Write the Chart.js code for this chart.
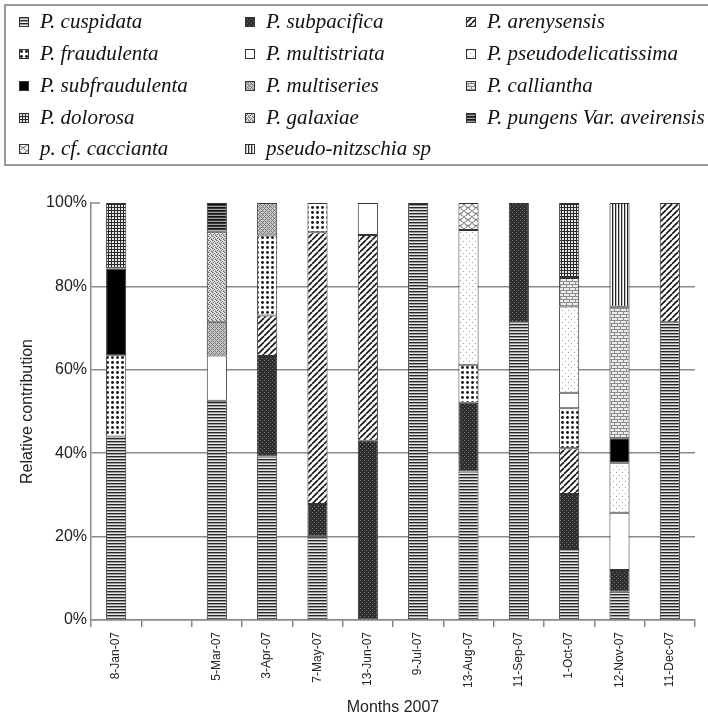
<!DOCTYPE html>
<html>
<head>
<meta charset="utf-8">
<script src="https://cdn.jsdelivr.net/npm/chart.js@4.4.1/dist/chart.umd.min.js"></script>
<style>
  html, body { margin: 0; padding: 0; background: #fff; width: 708px; height: 721px; overflow: hidden; }
  #wrap { position: relative; width: 708px; height: 721px; }
  #chart { position: absolute; left: 0; top: 0; }
  #legend { position: absolute; left: 4px; top: 4px; width: 712px; height: 162px; border: 2px solid #9a9a9a; box-sizing: border-box; }
  .item { position: absolute; font: italic 21px "Liberation Serif", "Times New Roman", serif; color: #111; white-space: nowrap; line-height: 21px; }
  .sw { position: absolute; width: 10px; height: 10px; }
</style>
</head>
<body>
<div id="wrap">
  <canvas id="chart" width="708" height="721"></canvas>
  <div id="legend"></div>
</div>
<script>
// Sampling dates (the second slot is an empty month on the axis)
const categories = ['8-Jan-07', '', '5-Mar-07', '3-Apr-07', '7-May-07', '13-Jun-07', '9-Jul-07',
                    '13-Aug-07', '11-Sep-07', '1-Oct-07', '12-Nov-07', '11-Dec-07'];

// Relative contribution (%) of each taxon per sampling date
const cuspidata           = [44.0, null, 52.6, 39.2, 20.0, null, 100, 35.6, 71.4, 17.0, 6.8, 71.4];
const subpacifica         = [null, null, null, 24.1, 7.8, 43.0, null, 16.5, 28.6, 13.2, 5.2, null];
const arenysensis         = [null, null, null, 9.7, 65.2, 49.3, null, null, null, 11.0, null, 28.6];
const fraudulenta         = [19.5, null, null, 19.2, 7.0, null, null, 9.1, null, 9.6, null, null];
const multistriata        = [null, null, 10.8, null, null, 7.7, null, null, null, 3.7, 13.7, null];
const pseudodelicatissima = [null, null, null, null, null, null, null, 32.3, null, 20.7, 12.0, null];
const subfraudulenta      = [20.8, null, null, null, null, null, null, null, null, null, 5.9, null];
const multiseries         = [null, null, 8.1, 7.8, null, null, null, null, null, null, null, null];
const calliantha          = [null, null, null, null, null, null, null, null, null, 6.8, 31.5, null];
const dolorosa            = [15.7, null, null, null, null, null, null, null, null, 18.0, null, null];
const galaxiae            = [null, null, 21.6, null, null, null, null, null, null, null, null, null];
const pungensAveirensis   = [null, null, 6.9, null, null, null, null, null, null, null, null, null];
const cfCaccianta         = [null, null, null, null, null, null, null, 6.5, null, null, null, null];
const pseudoNitzschiaSp   = [null, null, null, null, null, null, null, null, null, null, 24.9, null];

const speciesNames = ['P. cuspidata', 'P. subpacifica', 'P. arenysensis',
                      'P. fraudulenta', 'P. multistriata', 'P. pseudodelicatissima',
                      'P. subfraudulenta', 'P. multiseries', 'P. calliantha',
                      'P. dolorosa', 'P. galaxiae', 'P. pungens Var. aveirensis',
                      'p. cf. caccianta', 'pseudo-nitzschia sp'];
const seriesValues = [cuspidata, subpacifica, arenysensis, fraudulenta, multistriata,
                      pseudodelicatissima, subfraudulenta, multiseries, calliantha,
                      dolorosa, galaxiae, pungensAveirensis, cfCaccianta, pseudoNitzschiaSp];

const yTicks = [0, 20, 40, 60, 80, 100];

// ---- hatch fills -------------------------------------------------------
function tile(w, h, paint) {
  const c = document.createElement('canvas');
  c.width = w; c.height = h;
  const g = c.getContext('2d');
  paint(g, w, h);
  return g.createPattern(c, 'repeat');
}
function px(g, color, pts) { g.fillStyle = color; pts.forEach(p => g.fillRect(p[0], p[1], 1, 1)); }

const fills = [
  // horizontal stripes
  tile(1, 3, g => { px(g, '#262626', [[0, 0]]); px(g, '#9c9c9c', [[0, 1]]); px(g, '#e6e6e6', [[0, 2]]); }),
  // dark with light speckles
  tile(4, 4, g => { g.fillStyle = '#2f2f2f'; g.fillRect(0, 0, 4, 4); px(g, '#6e6e6e', [[0, 0], [2, 2]]); }),
  // forward diagonal
  tile(6, 6, g => {
    g.fillStyle = '#fff'; g.fillRect(0, 0, 6, 6);
    g.strokeStyle = '#151515'; g.lineWidth = 1.6;
    for (let k = -1; k <= 1; k++) { g.beginPath(); g.moveTo(k * 6, 6); g.lineTo(k * 6 + 6, 0); g.stroke(); }
  }),
  // big dots
  tile(5, 5, g => {
    g.fillStyle = '#fff'; g.fillRect(0, 0, 5, 5);
    g.fillStyle = '#151515'; g.beginPath(); g.arc(2.5, 2.5, 1.45, 0, Math.PI * 2); g.fill();
  }),
  // plain white
  '#ffffff',
  // sparse fine dots
  tile(6, 6, g => { g.fillStyle = '#fff'; g.fillRect(0, 0, 6, 6); px(g, '#a0a0a0', [[1, 1], [4, 4]]); }),
  // solid black
  '#000000',
  // grey cross-hatch
  tile(4, 4, g => {
    g.fillStyle = '#c4c4c4'; g.fillRect(0, 0, 4, 4);
    px(g, '#7c7c7c', [[0, 0], [1, 1], [2, 2], [3, 3], [3, 1], [1, 3]]);
  }),
  // brick
  tile(6, 6, g => {
    g.fillStyle = '#8c8c8c'; g.fillRect(0, 0, 6, 6);
    g.fillStyle = '#ececec';
    g.fillRect(0, 0, 5, 2);
    g.fillRect(3, 3, 3, 2); g.fillRect(0, 3, 2, 2);
  }),
  // small grid
  tile(3, 3, g => {
    g.fillStyle = '#e4e4e4'; g.fillRect(0, 0, 3, 3);
    g.fillStyle = '#2a2a2a'; g.fillRect(0, 0, 3, 1); g.fillRect(0, 0, 1, 3);
  }),
  // speckled grey
  tile(4, 4, g => {
    g.fillStyle = '#e2e2e2'; g.fillRect(0, 0, 4, 4);
    px(g, '#6a6a6a', [[0, 0], [2, 1], [1, 2], [3, 3]]);
    px(g, '#a8a8a8', [[1, 0], [3, 2], [0, 3]]);
  }),
  // heavy horizontal stripes
  tile(1, 3, g => { px(g, '#141414', [[0, 0]]); px(g, '#3c3c3c', [[0, 1]]); px(g, '#a4a4a4', [[0, 2]]); }),
  // scallops
  tile(8, 6, g => {
    g.fillStyle = '#fff'; g.fillRect(0, 0, 8, 6);
    g.strokeStyle = '#6c6c6c'; g.lineWidth = 1;
    [[4, 0], [0, 3], [8, 3], [4, 6]].forEach(([cx, cy]) => { g.beginPath(); g.arc(cx, cy, 3.5, 0, Math.PI); g.stroke(); });
  }),
  // vertical stripes
  tile(3, 1, g => { px(g, '#262626', [[0, 0]]); px(g, '#c0c0c0', [[1, 0]]); px(g, '#ffffff', [[2, 0]]); })
];

// ---- legend (three columns, row by row) --------------------------------
const legendTextX = [40, 266, 487];
const legendBaseline = [29, 61, 93, 125, 156];
const legendEl = document.getElementById('wrap');
speciesNames.forEach((name, i) => {
  const r = Math.floor(i / 3), c = i % 3;
  const sw = document.createElement('canvas');
  sw.width = 10; sw.height = 10; sw.className = 'sw';
  sw.style.left = (legendTextX[c] - 21) + 'px';
  sw.style.top = (legendBaseline[r] - 12) + 'px';
  const g = sw.getContext('2d');
  g.fillStyle = fills[i]; g.fillRect(0, 0, 10, 10);
  g.strokeStyle = '#333'; g.lineWidth = 1; g.strokeRect(0.5, 0.5, 9, 9);
  legendEl.appendChild(sw);
  const t = document.createElement('div');
  t.className = 'item';
  t.textContent = name;
  t.style.left = legendTextX[c] + 'px';
  t.style.top = (legendBaseline[r] - 17.6) + 'px';
  legendEl.appendChild(t);
});

// ---- chart -------------------------------------------------------------
const axisFont = { family: 'Liberation Sans, Arial, sans-serif', size: 16 };
const datasets = seriesValues.map((vals, i) => ({
  label: speciesNames[i],
  data: vals,
  backgroundColor: fills[i],
  borderColor: '#333333',
  borderWidth: 1,
  borderSkipped: false,
  barPercentage: 0.4,
  categoryPercentage: 1.0
}));

// short inward tick at the top of the value axis
const topTick = {
  id: 'topTick',
  afterDraw(chart) {
    const y = chart.scales.y, ctx = chart.ctx;
    const py = y.getPixelForValue(yTicks[yTicks.length - 1]);
    ctx.save();
    ctx.strokeStyle = '#8a8a8a'; ctx.lineWidth = 1.5;
    ctx.beginPath(); ctx.moveTo(y.right, py); ctx.lineTo(y.right + 9, py); ctx.stroke();
    ctx.restore();
  }
};

new Chart(document.getElementById('chart'), {
  type: 'bar',
  data: { labels: categories, datasets },
  plugins: [topTick],
  options: {
    responsive: false,
    animation: false,
    layout: { padding: { top: 203, right: 13, bottom: 0, left: 0 } },
    plugins: { legend: { display: false }, tooltip: { enabled: false } },
    scales: {
      x: {
        stacked: true,
        grid: { drawOnChartArea: false, drawTicks: true, tickLength: 7, color: '#8a8a8a', lineWidth: 1.5, offset: true },
        border: { color: '#8a8a8a', width: 1.5 },
        ticks: { minRotation: 90, maxRotation: 90, autoSkip: false, padding: 5, color: '#222',
                 font: { family: 'Liberation Sans, Arial, sans-serif', size: 12 } },
        title: { display: true, text: 'Months 2007', color: '#222', font: axisFont, padding: { top: 4, bottom: 4 } },
        afterFit(scale) { scale.height = 101; }
      },
      y: {
        stacked: true,
        min: 0, max: 100,
        afterBuildTicks(scale) { scale.ticks = yTicks.map(v => ({ value: v })); },
        grid: {
          drawTicks: false, lineWidth: 1.5,
          color: ctx => (ctx.tick && ctx.tick.value === 100) ? 'rgba(0,0,0,0)' : '#8a8a8a'
        },
        border: { color: '#8a8a8a', width: 1.5 },
        ticks: { padding: 4, color: '#222', font: axisFont, callback: v => v + '%' },
        title: { display: true, text: 'Relative contribution', color: '#222', font: axisFont, padding: { top: 18, bottom: 4 } },
        afterFit(scale) { scale.width = 91; }
      }
    }
  }
});
</script>
</body>
</html>
